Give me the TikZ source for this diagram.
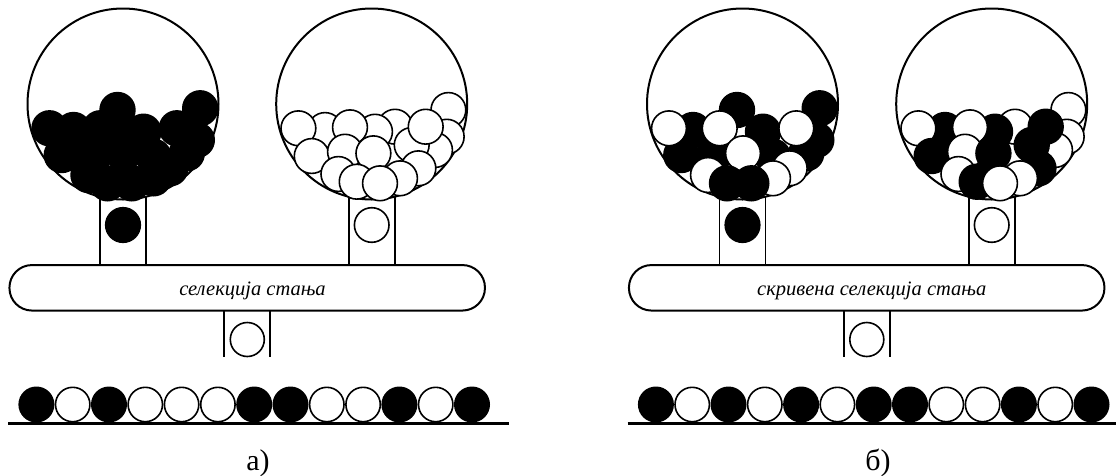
\documentclass[tikz,border=0pt]{standalone}
\usepackage{fontspec}
\setmainfont{Liberation Serif}
\tikzset{
  globe/.style={line width=2pt},
  ball/.style={line width=1.6pt, draw=black},
  tube/.style={line width=1.8pt},
  bar/.style={draw, line width=2pt, rounded corners=22.5pt, inner sep=0pt, fill=white, minimum width=475.5pt, minimum height=45.5pt},
  baseline/.style={line width=2.8pt},
  bartext/.style={font=\fontsize{20.5}{24}\selectfont\itshape, inner sep=0pt},
  lab/.style={font=\fontsize{30}{34}\selectfont, inner sep=0pt}
}
\begin{document}
\begin{tikzpicture}[x=1pt,y=-1pt]
\useasboundingbox (0,0) rectangle (1116,475);

% ================= panel a =================
\begin{scope}
  % left globe
  \coordinate (gAL) at (123,104);
  \draw[globe] (gAL) circle (95.5pt);
  \begin{scope}[shift={(gAL)}]
    \foreach \x/\y/\c in {2.2/29.3/black, 73.8/36/black, 30.5/52.7/black, 63.8/49.3/black,
      -61.2/51/black, -27.8/49.3/black, -5.5/6/black, 77.2/4.3/black, -49.5/26/black,
      20.5/27.7/black, -73.5/24.3/black, -22.8/24.3/black, 53.8/24.3/black, 0.5/49.3/black,
      47.2/64.3/black, 30.5/74.3/black, -34.5/71/black, -15.5/79.3/black, 8.8/79.3/black}
      \draw[ball, fill=\c] (\x,\y) circle (17.4pt);
    \draw[tube] (-23,92.7) -- (-23,161) (23,92.7) -- (23,161);
    \draw[ball, fill=black] (0,121) circle (17.3pt);
  \end{scope}
  % right globe
  \coordinate (gAR) at (371.7,104);
  \draw[globe] (gAR) circle (95.5pt);
  \begin{scope}[shift={(gAR)}]
    \foreach \x/\y/\c in {23.3/22.7/white, 3.3/27.7/white, -46.7/26/white, 76.7/6/white,
      75/32.7/white, 63.3/46/white, 40/41/white, 54/22.7/white, -73.3/24.3/white,
      -21.7/23.3/white, -60/52/white, -26.7/47.7/white, 1.7/49.3/white, 46.7/64.3/white,
      28.3/74.3/white, -33.3/70/white, -15/77.7/white, 8.3/79.3/white}
      \draw[ball, fill=\c] (\x,\y) circle (17.4pt);
    \draw[tube] (-23,92.7) -- (-23,161) (23,92.7) -- (23,161);
    \draw[ball, fill=white] (0,121) circle (17.3pt);
  \end{scope}
  % selection bar
  \node[bar] (barA) at (247.2,287.8) {};
  \node[bartext, anchor=base] (txtA) at (252.5,295) {селекција стања};
  % output tube
  \draw[tube] (224.3,310.5) -- (224.3,356.7) (270.3,310.5) -- (270.3,356.7);
  \draw[ball, fill=white] (247.3,339.5) circle (17pt);
  % output sequence
  \foreach \c [count=\i from 0] in {black,white,black,white,white,white,black,black,white,white,black,white,black}
    \draw[ball, fill=\c] (36.4+\i*36.3,404.5) circle (17.2pt);
  \draw[baseline] (8.3,423.5) -- (509.3,423.5);
  \node[lab, anchor=base] (labA) at (258,470) {а)};
\end{scope}

% ================= panel b =================
\begin{scope}[xshift=619.5pt]
  % left globe
  \coordinate (gBL) at (123,104);
  \draw[globe] (gBL) circle (95.5pt);
  \begin{scope}[shift={(gBL)}]
    \foreach \x/\y/\c in {2.2/29.3/white, 73.8/36/black, 30.5/52.7/black, 63.8/49.3/black,
      -61.2/51/black, -27.8/49.3/black, -5.5/6/black, 77.2/4.3/black, -49.5/26/black,
      20.5/27.7/black, -73.5/24.3/white, -22.8/24.3/white, 53.8/24.3/white, 0.5/49.3/white,
      47.2/64.3/white, 30.5/74.3/white, -34.5/71/white, -15.5/79.3/black, 8.8/79.3/black}
      \draw[ball, fill=\c] (\x,\y) circle (17.4pt);
    \draw[tube] (-23,92.7) -- (-23,161) (23,92.7) -- (23,161);
    \draw[ball, fill=black] (0,121) circle (17.3pt);
  \end{scope}
  % right globe
  \coordinate (gBR) at (372.2,104);
  \draw[globe] (gBR) circle (95.5pt);
  \begin{scope}[shift={(gBR)}]
    \foreach \x/\y/\c in {23.3/22.7/white, 3.3/27.7/black, -46.7/26/black, 76.7/6/white,
      75/32.7/white, 63.3/46/white, 40/41/black, 54/22.7/black, -73.3/24.3/white,
      -21.7/23.3/white, -60/52/black, -26.7/47.7/white, 1.7/49.3/black, 46.7/64.3/black,
      28.3/74.3/white, -33.3/70/white, -15/77.7/black, 8.3/79.3/white}
      \draw[ball, fill=\c] (\x,\y) circle (17.4pt);
    \draw[tube] (-23,92.7) -- (-23,161) (23,92.7) -- (23,161);
    \draw[ball, fill=white] (0,121) circle (17.3pt);
  \end{scope}
  % hidden selection bar
  \node[bar] (barB) at (247.2,287.8) {};
  \node[bartext, anchor=base] (txtB) at (252.2,295) {скривена селекција стања};
  % output tube
  \draw[tube] (224.3,310.5) -- (224.3,356.7) (270.3,310.5) -- (270.3,356.7);
  \draw[ball, fill=white] (247.3,339.5) circle (17pt);
  % output sequence
  \foreach \c [count=\i from 0] in {black,white,black,white,black,white,black,black,white,white,black,white,black}
    \draw[ball, fill=\c] (36.4+\i*36.3,404.5) circle (17.2pt);
  \draw[baseline] (8.2,423.5) -- (497,423.5);
  \node[lab, anchor=base] (labB) at (258.5,470) {б)};
\end{scope}
\end{tikzpicture}
\end{document}
